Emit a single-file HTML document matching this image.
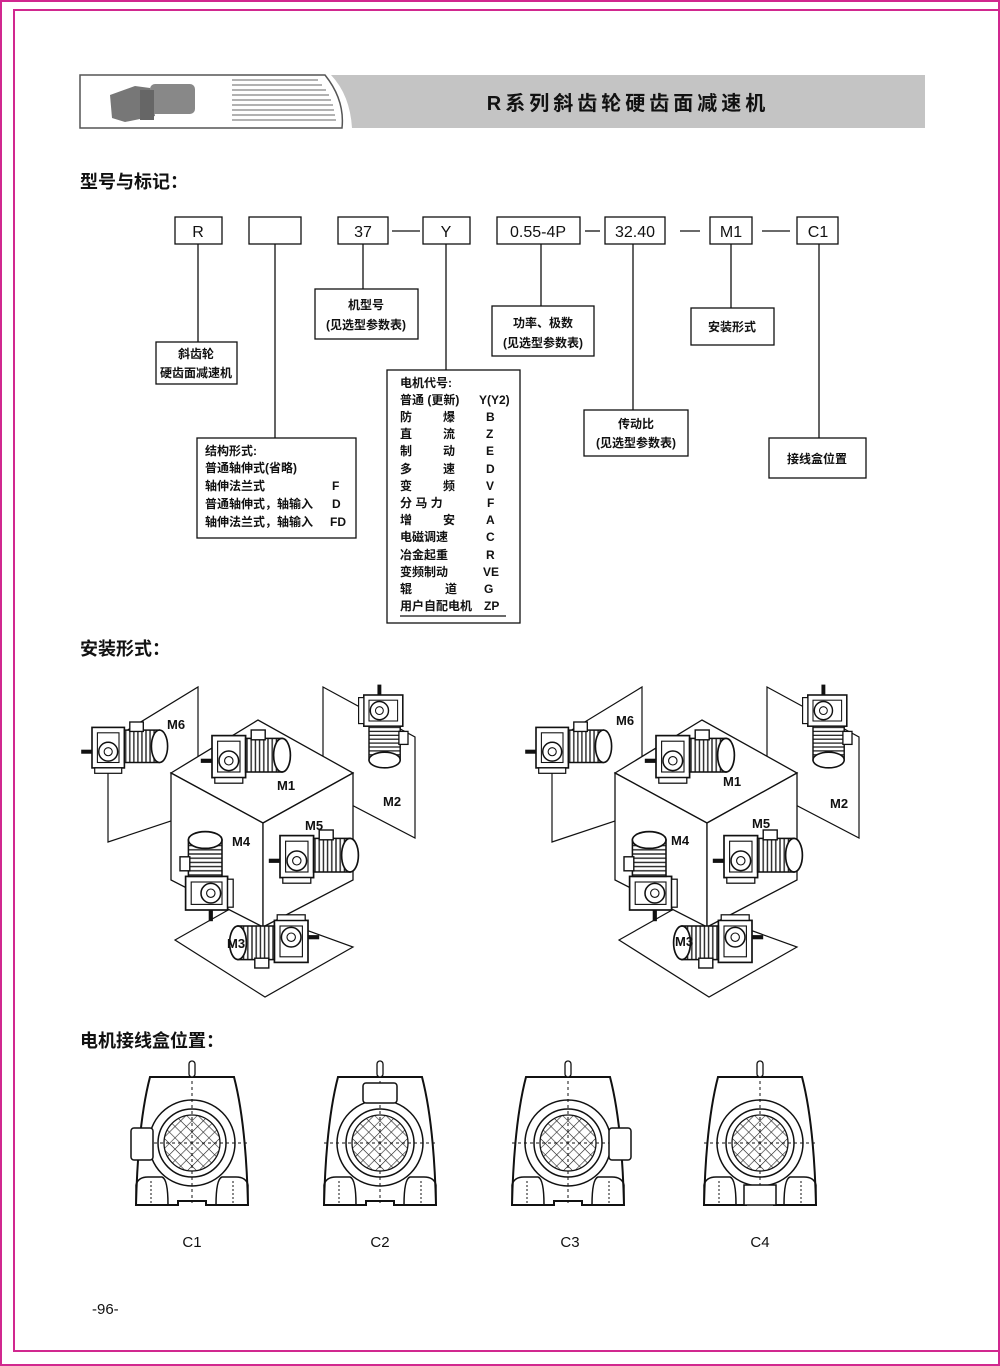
<!DOCTYPE html>
<html><head><meta charset="utf-8"><style>
html,body{margin:0;padding:0;background:#fff}
svg{display:block}
text{font-family:"Liberation Sans","Noto Sans CJK SC",sans-serif;fill:#111}
.b{font-weight:bold}
</style></head><body>
<svg width="1000" height="1366" viewBox="0 0 1000 1366" xmlns="http://www.w3.org/2000/svg">
<defs>
<pattern id="hatch" width="8" height="8" patternUnits="userSpaceOnUse" patternTransform="rotate(45)">
<rect width="8" height="8" fill="#fff"/><line x1="0" y1="0" x2="0" y2="8" stroke="#222" stroke-width="1.2"/><line x1="0" y1="0" x2="8" y2="0" stroke="#222" stroke-width="1.2"/>
</pattern>
<pattern id="stripe" width="3" height="10" patternUnits="userSpaceOnUse">
<rect width="3" height="10" fill="#fff"/><line x1="1" y1="0" x2="1" y2="10" stroke="#222" stroke-width="1"/>
</pattern>
<g id="mot">
<rect x="0" y="4" width="24" height="30" fill="#fff" stroke="#111" stroke-width="1.2"/>
<rect x="4" y="8" width="16" height="22" fill="none" stroke="#111" stroke-width="0.8"/>
<circle cx="12" cy="22" r="7" fill="#fff" stroke="#111" stroke-width="1.1"/>
<circle cx="12" cy="22" r="3" fill="#fff" stroke="#111" stroke-width="0.8"/>
<line x1="0" y1="22" x2="-8" y2="22" stroke="#111" stroke-width="3"/>
<rect x="24" y="6" width="26" height="24" fill="url(#stripe)" stroke="#111" stroke-width="1.1"/>
<ellipse cx="50" cy="18" rx="6" ry="12" fill="#fff" stroke="#111" stroke-width="1.2"/>
<rect x="28" y="0" width="10" height="7" fill="#fff" stroke="#111" stroke-width="1"/>
<rect x="2" y="34" width="20" height="4" fill="#fff" stroke="#111" stroke-width="0.9"/>
</g>
<g id="fig">
<polygon points="108,742 198,687 198,812 108,842" fill="#fff" stroke="#111" stroke-width="1.2"/>
<polygon points="323,687 415,737 415,838 323,790" fill="#fff" stroke="#111" stroke-width="1.2"/>
<polygon points="175,940 237,905 353,947 265,997" fill="#fff" stroke="#111" stroke-width="1.2"/>
<polygon points="171,773 258,720 353,773 263,823" fill="#fff" stroke="#111" stroke-width="1.3"/>
<polygon points="171,773 263,823 263,927 171,880" fill="#fff" stroke="#111" stroke-width="1.3"/>
<polygon points="263,823 353,773 353,880 263,927" fill="#fff" stroke="#111" stroke-width="1.3"/>
<use href="#mot" transform="translate(92,722) scale(1.35)"/>
<use href="#mot" transform="translate(212,730) scale(1.4)"/>
<use href="#mot" transform="translate(408,695) rotate(90) scale(1.3)"/>
<use href="#mot" transform="translate(180,910) rotate(-90) scale(1.4)"/>
<use href="#mot" transform="translate(280,830) scale(1.4)"/>
<use href="#mot" transform="translate(308,968) rotate(180) scale(1.4)"/>
</g>
<g id="cb">
<path d="M-42,-66 L42,-66 Q54,-20 56,62 L14,62 L14,58 L-14,58 L-14,62 L-56,62 Q-54,-20 -42,-66 Z" fill="#fff" stroke="#111" stroke-width="2"/>
<rect x="-3" y="-82" width="6" height="16" rx="3" fill="#fff" stroke="#111" stroke-width="1.3"/>
<circle r="43" fill="#fff" stroke="#111" stroke-width="1.5"/>
<circle r="34" fill="#fff" stroke="#111" stroke-width="1.5"/>
<circle r="28" fill="url(#hatch)" stroke="#111" stroke-width="1.3"/>
<line x1="-56" y1="0" x2="56" y2="0" stroke="#111" stroke-dasharray="3,3"/>
<line x1="0" y1="-62" x2="0" y2="60" stroke="#111" stroke-dasharray="3,3"/>
<path d="M-56,62 L-56,42 Q-54,34 -44,34 L-30,34 Q-24,36 -24,62" fill="none" stroke="#111" stroke-width="1.5"/>
<path d="M56,62 L56,42 Q54,34 44,34 L30,34 Q24,36 24,62" fill="none" stroke="#111" stroke-width="1.5"/>
<line x1="-41" y1="38" x2="-41" y2="60" stroke="#111" stroke-dasharray="2,2"/>
<line x1="41" y1="38" x2="41" y2="60" stroke="#111" stroke-dasharray="2,2"/>
</g>
</defs>

<rect x="1" y="1" width="998" height="1364" fill="none" stroke="#d1288f" stroke-width="2"/>
<rect x="14" y="10" width="986" height="1341" fill="none" stroke="#d1288f" stroke-width="2"/>

<!-- header -->
<path d="M80,75 L325,75 Q345,100 342,128 L80,128 Z" fill="#fff" stroke="#555" stroke-width="1.5"/>
<g stroke="#999" stroke-width="1.5">
<line x1="232" y1="80" x2="318" y2="80"/><line x1="232" y1="85" x2="322" y2="85"/><line x1="232" y1="90" x2="326" y2="90"/><line x1="232" y1="95" x2="329" y2="95"/><line x1="232" y1="100" x2="331" y2="100"/><line x1="232" y1="105" x2="333" y2="105"/><line x1="232" y1="110" x2="334" y2="110"/><line x1="232" y1="115" x2="335" y2="115"/><line x1="232" y1="120" x2="336" y2="120"/>
</g>
<path d="M110,95 L135,86 L150,88 L155,116 L125,122 L112,118 Z" fill="#777"/>
<rect x="150" y="84" width="45" height="30" rx="5" fill="#888"/>
<rect x="140" y="90" width="14" height="30" fill="#666"/>
<path d="M331,75 L925,75 L925,128 L352,128 Q350,95 331,75 Z" fill="#c4c4c4"/>
<text x="628" y="110" font-size="20" class="b" text-anchor="middle" letter-spacing="4">R系列斜齿轮硬齿面减速机</text>

<text x="80" y="188" font-size="18" class="b">型号与标记：</text>

<g fill="#fff" stroke="#111" stroke-width="1.3">
<rect x="175" y="217" width="47" height="27"/>
<rect x="249" y="217" width="52" height="27"/>
<rect x="338" y="217" width="50" height="27"/>
<rect x="423" y="217" width="47" height="27"/>
<rect x="497" y="217" width="83" height="27"/>
<rect x="605" y="217" width="60" height="27"/>
<rect x="710" y="217" width="42" height="27"/>
<rect x="797" y="217" width="41" height="27"/>
</g>
<g font-size="16" text-anchor="middle">
<text x="198" y="237">R</text><text x="363" y="237">37</text><text x="446" y="237">Y</text>
<text x="538" y="237">0.55-4P</text><text x="635" y="237">32.40</text><text x="731" y="237">M1</text><text x="818" y="237">C1</text>
</g>
<g stroke="#111" stroke-width="1.3">
<line x1="392" y1="231" x2="420" y2="231"/><line x1="585" y1="231" x2="600" y2="231"/>
<line x1="680" y1="231" x2="700" y2="231"/><line x1="762" y1="231" x2="790" y2="231"/>
<line x1="198" y1="244" x2="198" y2="342"/><line x1="275" y1="244" x2="275" y2="439"/>
<line x1="363" y1="244" x2="363" y2="289"/><line x1="446" y1="244" x2="446" y2="370"/>
<line x1="541" y1="244" x2="541" y2="306"/><line x1="633" y1="244" x2="633" y2="410"/>
<line x1="731" y1="244" x2="731" y2="308"/><line x1="819" y1="244" x2="819" y2="438"/>
</g>
<g fill="#fff" stroke="#111" stroke-width="1.3">
<rect x="315" y="289" width="103" height="50"/>
<rect x="156" y="342" width="81" height="42"/>
<rect x="492" y="306" width="102" height="50"/>
<rect x="691" y="308" width="83" height="37"/>
<rect x="387" y="370" width="133" height="253"/>
<rect x="197" y="438" width="159" height="100"/>
<rect x="584" y="410" width="104" height="46"/>
<rect x="769" y="438" width="97" height="40"/>
</g>
<g font-size="12" class="b" text-anchor="middle">
<text x="366" y="309">机型号</text><text x="366" y="329">(见选型参数表)</text>
<text x="196" y="358">斜齿轮</text><text x="196" y="377">硬齿面减速机</text>
<text x="543" y="327">功率、极数</text><text x="543" y="347">(见选型参数表)</text>
<text x="732" y="331">安装形式</text>
<text x="636" y="428">传动比</text><text x="636" y="447">(见选型参数表)</text>
<text x="817" y="463">接线盒位置</text>
</g>
<g font-size="12" class="b">
<text x="205" y="455">结构形式:</text>
<text x="205" y="472">普通轴伸式(省略)</text>
<text x="205" y="490">轴伸法兰式</text><text x="332" y="490">F</text>
<text x="205" y="508">普通轴伸式，轴输入</text><text x="332" y="508">D</text>
<text x="205" y="526">轴伸法兰式，轴输入</text><text x="330" y="526">FD</text>
</g>
<g font-size="12" class="b">
<text x="400" y="387">电机代号:</text>
<text x="400" y="404">普通 (更新)</text><text x="479" y="404">Y(Y2)</text>
<text x="400" y="421">防</text><text x="443" y="421">爆</text><text x="486" y="421">B</text>
<text x="400" y="438">直</text><text x="443" y="438">流</text><text x="486" y="438">Z</text>
<text x="400" y="455">制</text><text x="443" y="455">动</text><text x="486" y="455">E</text>
<text x="400" y="473">多</text><text x="443" y="473">速</text><text x="486" y="473">D</text>
<text x="400" y="490">变</text><text x="443" y="490">频</text><text x="486" y="490">V</text>
<text x="400" y="507">分 马 力</text><text x="487" y="507">F</text>
<text x="400" y="524">增</text><text x="443" y="524">安</text><text x="486" y="524">A</text>
<text x="400" y="541">电磁调速</text><text x="486" y="541">C</text>
<text x="400" y="559">冶金起重</text><text x="486" y="559">R</text>
<text x="400" y="576">变频制动</text><text x="483" y="576">VE</text>
<text x="400" y="593">辊</text><text x="445" y="593">道</text><text x="484" y="593">G</text>
<text x="400" y="610">用户自配电机</text><text x="484" y="610">ZP</text>
</g>
<line x1="400" y1="616" x2="506" y2="616" stroke="#111" stroke-width="1.3"/>

<text x="80" y="655" font-size="18" class="b">安装形式：</text>
<use href="#fig"/>
<use href="#fig" transform="translate(444,0)"/>
<g font-size="13" class="b">
<text x="167" y="729">M6</text><text x="277" y="790">M1</text><text x="383" y="806">M2</text>
<text x="232" y="846">M4</text><text x="305" y="830">M5</text><text x="227" y="948">M3</text>
<text x="616" y="725">M6</text><text x="723" y="786">M1</text><text x="830" y="808">M2</text>
<text x="671" y="845">M4</text><text x="752" y="828">M5</text><text x="675" y="946">M3</text>
</g>

<text x="80" y="1047" font-size="18" class="b">电机接线盒位置：</text>
<use href="#cb" transform="translate(192,1143)"/>
<use href="#cb" transform="translate(380,1143)"/>
<use href="#cb" transform="translate(568,1143)"/>
<use href="#cb" transform="translate(760,1143)"/>
<rect x="131" y="1128" width="22" height="32" rx="3" fill="#fff" stroke="#111" stroke-width="1.5"/>
<rect x="363" y="1083" width="34" height="20" rx="3" fill="#fff" stroke="#111" stroke-width="1.5"/>
<rect x="609" y="1128" width="22" height="32" rx="3" fill="#fff" stroke="#111" stroke-width="1.5"/>
<rect x="744" y="1185" width="32" height="20" fill="#fff" stroke="#111" stroke-width="1.5"/>
<g font-size="15" text-anchor="middle">
<text x="192" y="1247">C1</text><text x="380" y="1247">C2</text><text x="570" y="1247">C3</text><text x="760" y="1247">C4</text>
</g>
<text x="92" y="1314" font-size="15">-96-</text>
</svg>
</body></html>
